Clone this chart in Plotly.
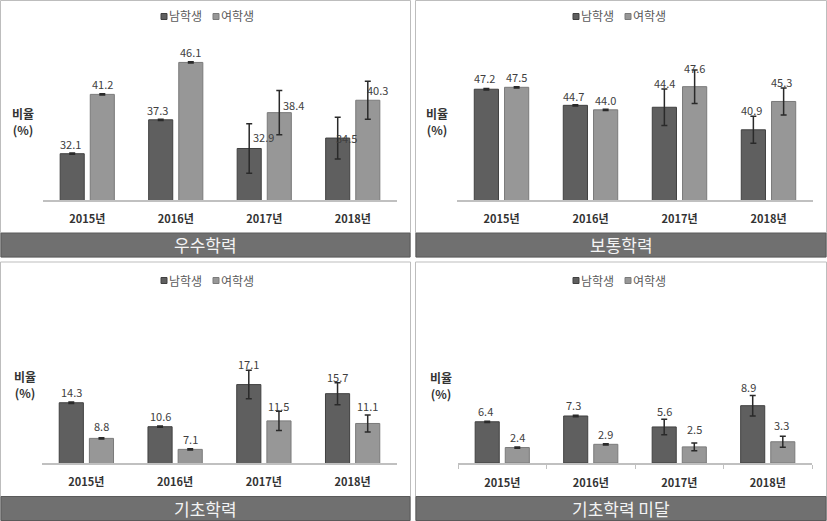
import plotly.graph_objects as go

W, H = 827, 521

years = ["2015년", "2016년", "2017년", "2018년"]
series_names = ["남학생", "여학생"]

panel_titles = ["우수학력", "보통학력", "기초학력", "기초학력 미달"]

# values per panel: [male, female]
male_vals = [
    [32.1, 37.3, 32.9, 34.5],
    [47.2, 44.7, 44.4, 40.9],
    [14.3, 10.6, 17.1, 15.7],
    [6.4, 7.3, 5.6, 8.9],
]
female_vals = [
    [41.2, 46.1, 38.4, 40.3],
    [47.5, 44.0, 47.6, 45.3],
    [8.8, 7.1, 11.5, 11.1],
    [2.4, 2.9, 2.5, 3.3],
]
male_err = [
    [0.1, 0.1, 3.8, 3.2],
    [0.1, 0.1, 2.85, 2.1],
    [0.1, 0.1, 2.2, 1.7],
    [0.1, 0.1, 1.2, 1.6],
]
female_err = [
    [0.1, 0.1, 3.4, 2.9],
    [0.1, 0.1, 2.6, 2.1],
    [0.1, 0.1, 1.5, 1.3],
    [0.1, 0.1, 0.6, 0.85],
]
y_ranges = [[25, 50], [30, 55], [5, 30], [0, 25]]

# label pixel offsets (dx, dy) relative to default placement
male_lbl_off = [
    [(-2, 10), (-3, 10), (14, 11), (9, 0)],
    [(-2, 11), (-2, 9), (0, 24), (-2, 20)],
    [(0, 11), (0, 11), (0, 21), (0, 17)],
    [(-2, 11), (-2, 11), (0, 16), (-4, 19)],
]
female_lbl_off = [
    [(0, 10), (0, 10), (14, 8), (10, 10)],
    [(0, 10), (0, 10), (0, 19), (-2, 19)],
    [(0, 12), (0, 10), (0, 15), (0, 17)],
    [(0, 11), (0, 10), (0, 18), (-1, 17)],
]

MALE_FILL, MALE_LINE = "#5f5f5f", "#404040"
FEM_FILL, FEM_LINE = "#979797", "#7a7a7a"
FONT = "Noto Sans CJK KR"

# panel frames in pixels: (x0, x1, y0, y1) and plot areas
panels = [
    dict(frame=(0.5, 410.5, 0.5, 257), plot=(43, 397, 37, 200), legend=(210, 16), ylab=(23, 121)),
    dict(frame=(415.5, 826.5, 0.5, 257), plot=(457, 813, 39, 200), legend=(622, 16), ylab=(437, 121)),
    dict(frame=(0.5, 410.5, 262, 520.5), plot=(42, 397, 301, 463), legend=(210, 280), ylab=(25, 384)),
    dict(frame=(415.5, 826.5, 262, 520.5), plot=(458, 812, 302, 463), legend=(622, 280), ylab=(441, 385)),
]


def px_x(x):
    return x / W


def px_y(y):
    return 1 - y / H


fig = go.Figure()
shapes = []
annotations = []

for i in range(4):
    p = panels[i]
    xa = "x" if i == 0 else f"x{i+1}"
    ya = "y" if i == 0 else f"y{i+1}"
    xkey = "xaxis" if i == 0 else f"xaxis{i+1}"
    ykey = "yaxis" if i == 0 else f"yaxis{i+1}"
    fig.add_trace(go.Bar(
        x=years, y=male_vals[i], name=series_names[0], xaxis=xa, yaxis=ya,
        marker=dict(color=MALE_FILL, line=dict(color=MALE_LINE, width=1)),
        error_y=dict(type="data", array=male_err[i], color="#2a2a2a", thickness=1.5, width=3),
        showlegend=False,
    ))
    fig.add_trace(go.Bar(
        x=years, y=female_vals[i], name=series_names[1], xaxis=xa, yaxis=ya,
        marker=dict(color=FEM_FILL, line=dict(color=FEM_LINE, width=1)),
        error_y=dict(type="data", array=female_err[i], color="#2a2a2a", thickness=1.5, width=3),
        showlegend=False,
    ))
    x0, x1, y0, y1 = p["plot"]
    fig.layout[xkey] = dict(
        domain=[px_x(x0), px_x(x1)], anchor=ya, type="category",
        showline=True, linecolor="#c0c0c0", linewidth=1.5,
        showgrid=False, zeroline=False,
        ticks="outside" if i == 3 else "", tickson="boundaries", ticklen=4,
        tickcolor="#c0c0c0", tickwidth=1,
        ticklabelstandoff=8 if i != 3 else 9,
        tickfont=dict(family=FONT, size=11, color="#333333", weight="bold"),
        fixedrange=True,
    )
    fig.layout[ykey] = dict(
        domain=[px_y(y1), px_y(y0)], anchor=xa, range=y_ranges[i],
        visible=False, fixedrange=True,
    )

    # data labels
    for j, yr in enumerate(years):
        for vals, offs, base_dx in ((male_vals, male_lbl_off, -15), (female_vals, female_lbl_off, 15)):
            dx, dy = offs[i][j]
            annotations.append(dict(
                x=yr, y=vals[i][j], xref=xa, yref=ya, text=f"{vals[i][j]:.1f}",
                showarrow=False, xanchor="center", yanchor="middle",
                xshift=base_dx + dx, yshift=dy,
                font=dict(family=FONT, size=11, color="#404040"),
            ))

    # frame
    fx0, fx1, fy0, fy1 = p["frame"]
    shapes.append(dict(type="rect", xref="paper", yref="paper",
                       x0=px_x(fx0), x1=px_x(fx1), y0=px_y(fy1), y1=px_y(fy0),
                       line=dict(color="#bdbdbd", width=1), fillcolor="rgba(0,0,0,0)", layer="below"))
    # banner
    by0, by1 = fy1 - 24, fy1
    shapes.append(dict(type="rect", xref="paper", yref="paper",
                       x0=px_x(fx0 + 0.5), x1=px_x(fx1 - 0.5), y0=px_y(by1), y1=px_y(by0),
                       line=dict(color="#5a5a5a", width=1), fillcolor="#707070", layer="below"))
    annotations.append(dict(
        x=px_x((fx0 + fx1) / 2), y=px_y((by0 + by1) / 2), xref="paper", yref="paper",
        text=panel_titles[i], showarrow=False, xanchor="center", yanchor="middle",
        font=dict(family=FONT, size=17, color="#f4f4f4"),
    ))
    # legend (key squares + names)
    lx, ly = p["legend"]
    for k, (fill, line, sx, tx) in enumerate(((MALE_FILL, MALE_LINE, -49, -43),
                                               (FEM_FILL, FEM_LINE, 3, 9))):
        shapes.append(dict(type="rect", xref="paper", yref="paper",
                           x0=px_x(lx + sx), x1=px_x(lx + sx + 6),
                           y0=px_y(ly + 3.5), y1=px_y(ly - 2.5),
                           line=dict(color=line, width=1), fillcolor=fill))
        annotations.append(dict(
            x=px_x(lx + tx), y=px_y(ly), xref="paper", yref="paper", text=series_names[k],
            showarrow=False, xanchor="left", yanchor="middle",
            font=dict(family=FONT, size=12, color="#595959"),
        ))
    # y label
    yx, yy = p["ylab"]
    annotations.append(dict(
        x=px_x(yx), y=px_y(yy), xref="paper", yref="paper", text="비율<br>(%)",
        showarrow=False, xanchor="center", yanchor="middle",
        font=dict(family=FONT, size=12, color="#333333", weight="bold"),
    ))

fig.update_layout(
    width=W, height=H, margin=dict(l=0, r=0, t=0, b=0),
    paper_bgcolor="white", plot_bgcolor="white",
    barmode="group", bargap=0.32, bargroupgap=0.2,
    shapes=shapes, annotations=annotations, showlegend=False,
    font=dict(family=FONT),
)

fig.write_html("out.html")
